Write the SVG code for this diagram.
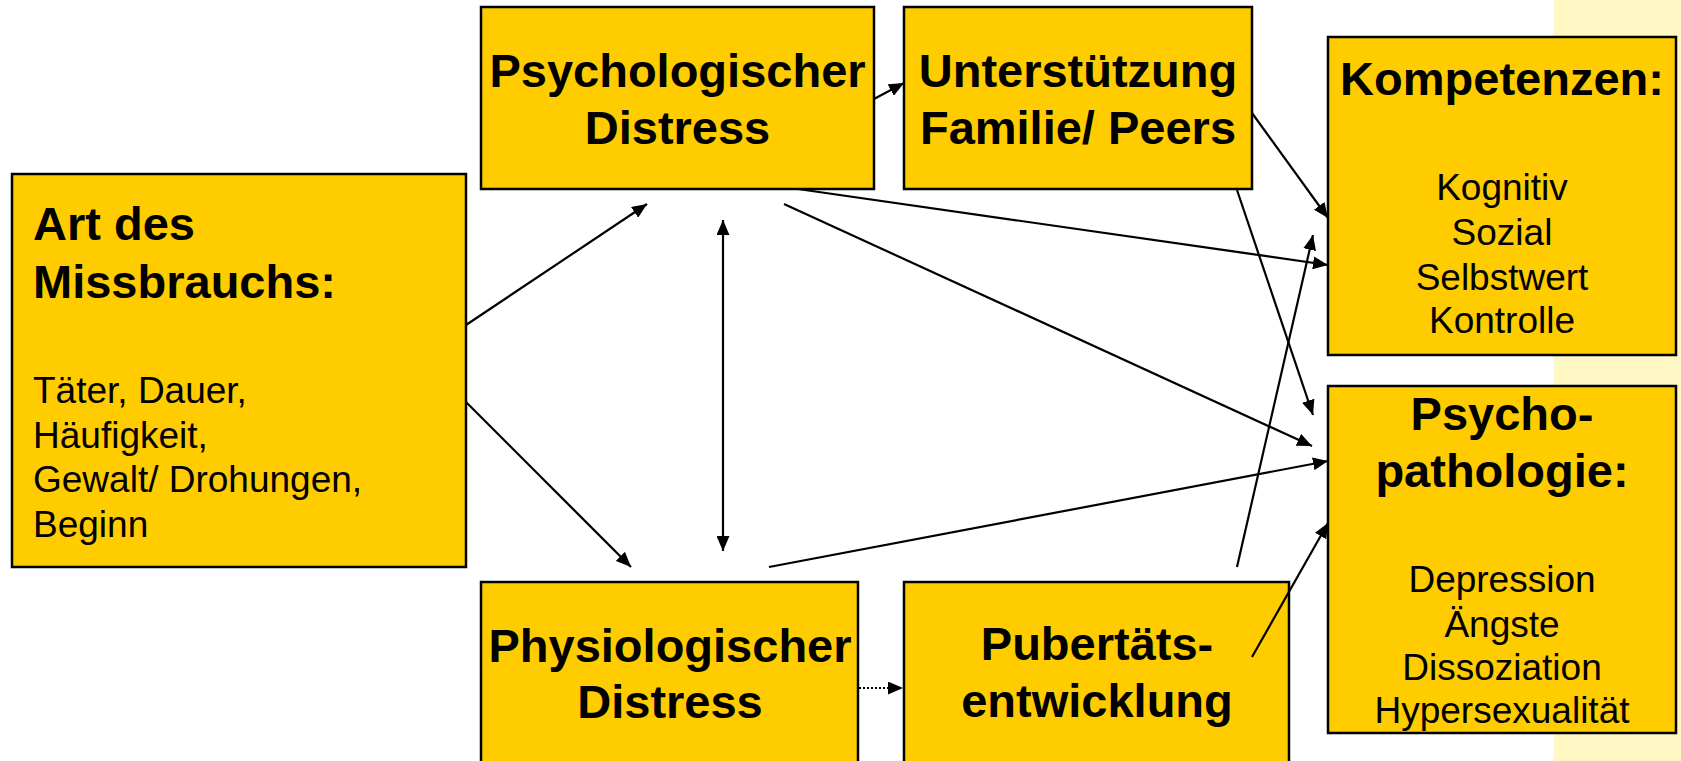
<svg xmlns="http://www.w3.org/2000/svg" width="1681" height="761" viewBox="0 0 1681 761">
<style>
.box{fill:#FFCC00;stroke:#000;stroke-width:2.5}
.b{font-family:"Liberation Sans",Arial,sans-serif;font-weight:bold;font-size:47px;fill:#000}
.r{font-family:"Liberation Sans",Arial,sans-serif;font-size:37px;fill:#000}
.c{text-anchor:middle}
.ln{stroke:#000;stroke-width:2.2;fill:none}
</style>
<defs>
<marker id="ah" markerUnits="userSpaceOnUse" markerWidth="16" markerHeight="13" refX="15" refY="6.5" orient="auto-start-reverse" viewBox="0 0 16 13">
<path d="M0,0 L15,6.5 L0,13 z" fill="#000"/>
</marker>
</defs>
<rect x="0" y="0" width="1681" height="761" fill="#fff"/>
<rect x="1554" y="0" width="127" height="761" fill="#FFF8C4"/>
<g id="art">
<rect class="box" x="12" y="174" width="454" height="393"/>
<text class="b" x="33" y="240">Art des</text>
<text class="b" x="33" y="298">Missbrauchs:</text>
<text class="r" x="33" y="403">Täter, Dauer,</text>
<text class="r" x="33" y="448">Häufigkeit,</text>
<text class="r" x="33" y="492">Gewalt/ Drohungen,</text>
<text class="r" x="33" y="537">Beginn</text>
</g>
<g id="psych">
<rect class="box" x="481" y="7" width="393" height="182"/>
<text class="b c" x="677.5" y="87">Psychologischer</text>
<text class="b c" x="677.5" y="144">Distress</text>
</g>
<g id="unter">
<rect class="box" x="904" y="7" width="348" height="182"/>
<text class="b c" x="1078" y="87">Unterstützung</text>
<text class="b c" x="1078" y="144">Familie/ Peers</text>
</g>
<g id="komp">
<rect class="box" x="1328" y="37" width="348" height="318"/>
<text class="b c" x="1502" y="95">Kompetenzen:</text>
<text class="r c" x="1502" y="200">Kognitiv</text>
<text class="r c" x="1502" y="245">Sozial</text>
<text class="r c" x="1502" y="290">Selbstwert</text>
<text class="r c" x="1502" y="333">Kontrolle</text>
</g>
<g id="psychopath">
<rect class="box" x="1328" y="386" width="348" height="347"/>
<text class="b c" x="1502" y="430">Psycho-</text>
<text class="b c" x="1502" y="487">pathologie:</text>
<text class="r c" x="1502" y="592">Depression</text>
<text class="r c" x="1502" y="637">Ängste</text>
<text class="r c" x="1502" y="680">Dissoziation</text>
<text class="r c" x="1502" y="723">Hypersexualität</text>
</g>
<g id="physio">
<rect class="box" x="481" y="582" width="377" height="200"/>
<text class="b c" x="670" y="662">Physiologischer</text>
<text class="b c" x="670" y="718">Distress</text>
</g>
<g id="pub">
<rect class="box" x="904" y="582" width="385" height="200"/>
<text class="b c" x="1097" y="660">Pubertäts-</text>
<text class="b c" x="1097" y="717">entwicklung</text>
</g>
<g id="connectors">
<line class="ln" x1="466" y1="325" x2="647" y2="204" marker-end="url(#ah)"/>
<line class="ln" x1="466" y1="402" x2="631" y2="567" marker-end="url(#ah)"/>
<line class="ln" x1="723" y1="220" x2="723" y2="551" marker-start="url(#ah)" marker-end="url(#ah)"/>
<line class="ln" x1="874" y1="99" x2="904" y2="83" marker-end="url(#ah)"/>
<line class="ln" x1="798" y1="189" x2="1328" y2="265" marker-end="url(#ah)"/>
<line class="ln" x1="784" y1="204" x2="1312" y2="446" marker-end="url(#ah)"/>
<line class="ln" x1="1252" y1="113" x2="1328" y2="218" marker-end="url(#ah)"/>
<line class="ln" x1="1237" y1="190" x2="1313" y2="415" marker-end="url(#ah)"/>
<line class="ln" x1="769" y1="567" x2="1328" y2="461" marker-end="url(#ah)"/>
<line class="ln" x1="1237" y1="567" x2="1313" y2="235" marker-end="url(#ah)"/>
<line class="ln" x1="1252" y1="657" x2="1328" y2="523" marker-end="url(#ah)"/>
<line class="ln" x1="859" y1="688" x2="903" y2="688" stroke-dasharray="2,2" marker-end="url(#ah)"/>
</g>
</svg>
